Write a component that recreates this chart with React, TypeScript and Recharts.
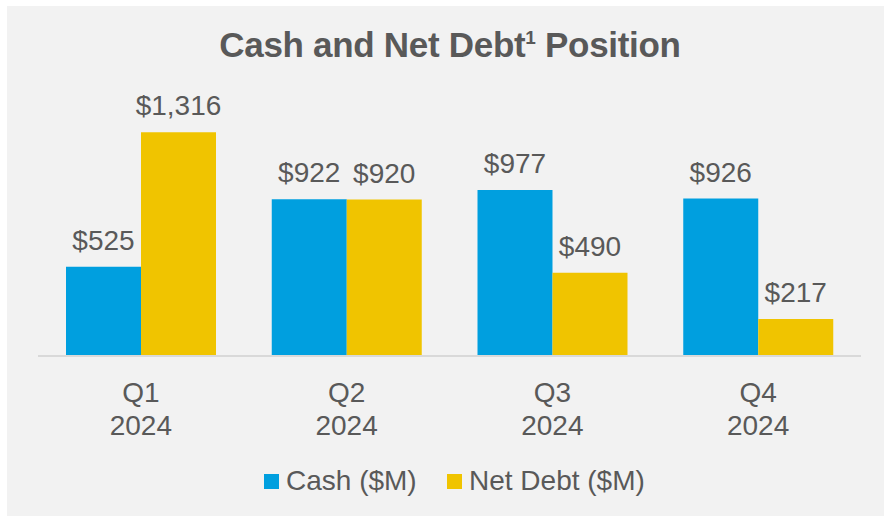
import React from "react";
import { BarChart, Bar, XAxis, YAxis, LabelList } from "recharts";

const quarters = ["Q1", "Q2", "Q3", "Q4"];
const years = ["2024", "2024", "2024", "2024"];
const cash = [525, 922, 977, 926];
const netDebt = [1316, 920, 490, 217];

const BLUE = "#009fdf";
const YELLOW = "#f0c400";
const TEXT = "#595959";
const FONT = '"Liberation Sans", Arial, sans-serif';

const data = quarters.map((q, i) => ({
  quarter: q,
  year: years[i],
  cash: cash[i],
  netDebt: netDebt[i],
}));

const fmt = (v: number) => "$" + v.toLocaleString("en-US");

function QuarterTick({ x, y, index }: { x?: number; y?: number; index?: number }) {
  const i = index ?? 0;
  return (
    <g>
      <text x={x} y={(y ?? 0) + 46} textAnchor="middle" fill={TEXT} fontSize={28} fontFamily={FONT}>
        {quarters[i]}
      </text>
      <text x={x} y={(y ?? 0) + 79} textAnchor="middle" fill={TEXT} fontSize={28} fontFamily={FONT}>
        {years[i]}
      </text>
    </g>
  );
}

function LegendItem({ color, label, left }: { color: string; label: string; left: number }) {
  return (
    <div style={{ position: "absolute", left, top: 466, display: "flex", alignItems: "center", height: 30 }}>
      <span style={{ width: 15, height: 15, background: color, marginRight: 7 }} />
      <span style={{ fontSize: 28, color: TEXT, fontFamily: FONT, lineHeight: "30px" }}>{label}</span>
    </div>
  );
}

export default function App() {
  return (
    <div style={{ position: "absolute", left: 0, top: 0, width: 884, height: 516, background: "#fff", overflow: "hidden" }}>
      <div style={{ position: "absolute", left: 7, top: 6, right: 0, bottom: 0, background: "#f2f2f2" }} />
      <div
        style={{
          position: "absolute",
          left: 0,
          width: 900,
          top: 25,
          textAlign: "center",
          fontFamily: FONT,
          fontWeight: "bold",
          fontSize: 35,
          color: TEXT,
          lineHeight: "40px",
          letterSpacing: -0.3,
        }}
      >
        Cash and Net Debt<sup style={{ fontSize: 19, verticalAlign: "super", lineHeight: 0 }}>1</sup> Position
      </div>
      <div style={{ position: "absolute", left: 0, top: 0 }}>
        <BarChart
          width={884}
          height={516}
          data={data}
          margin={{ top: 118, right: 23, bottom: 60, left: 38 }}
          barCategoryGap={28}
          barGap={0}
        >
          <YAxis hide domain={[0, 1400]} />
          <XAxis
            dataKey="quarter"
            height={100}
            tickLine={false}
            tickSize={0}
            tickMargin={0}
            axisLine={{ stroke: "#d9d9d9", strokeWidth: 2 }}
            tick={<QuarterTick />}
            interval={0}
          />
          <Bar dataKey="cash" fill={BLUE} isAnimationActive={false}>
            <LabelList dataKey="cash" position="top" offset={17} formatter={fmt} fill={TEXT} fontSize={28} fontFamily={FONT} />
          </Bar>
          <Bar dataKey="netDebt" fill={YELLOW} isAnimationActive={false}>
            <LabelList dataKey="netDebt" position="top" offset={17} formatter={fmt} fill={TEXT} fontSize={28} fontFamily={FONT} />
          </Bar>
        </BarChart>
      </div>
      <LegendItem color={BLUE} label="Cash ($M)" left={264} />
      <LegendItem color={YELLOW} label="Net Debt ($M)" left={447} />
    </div>
  );
}
